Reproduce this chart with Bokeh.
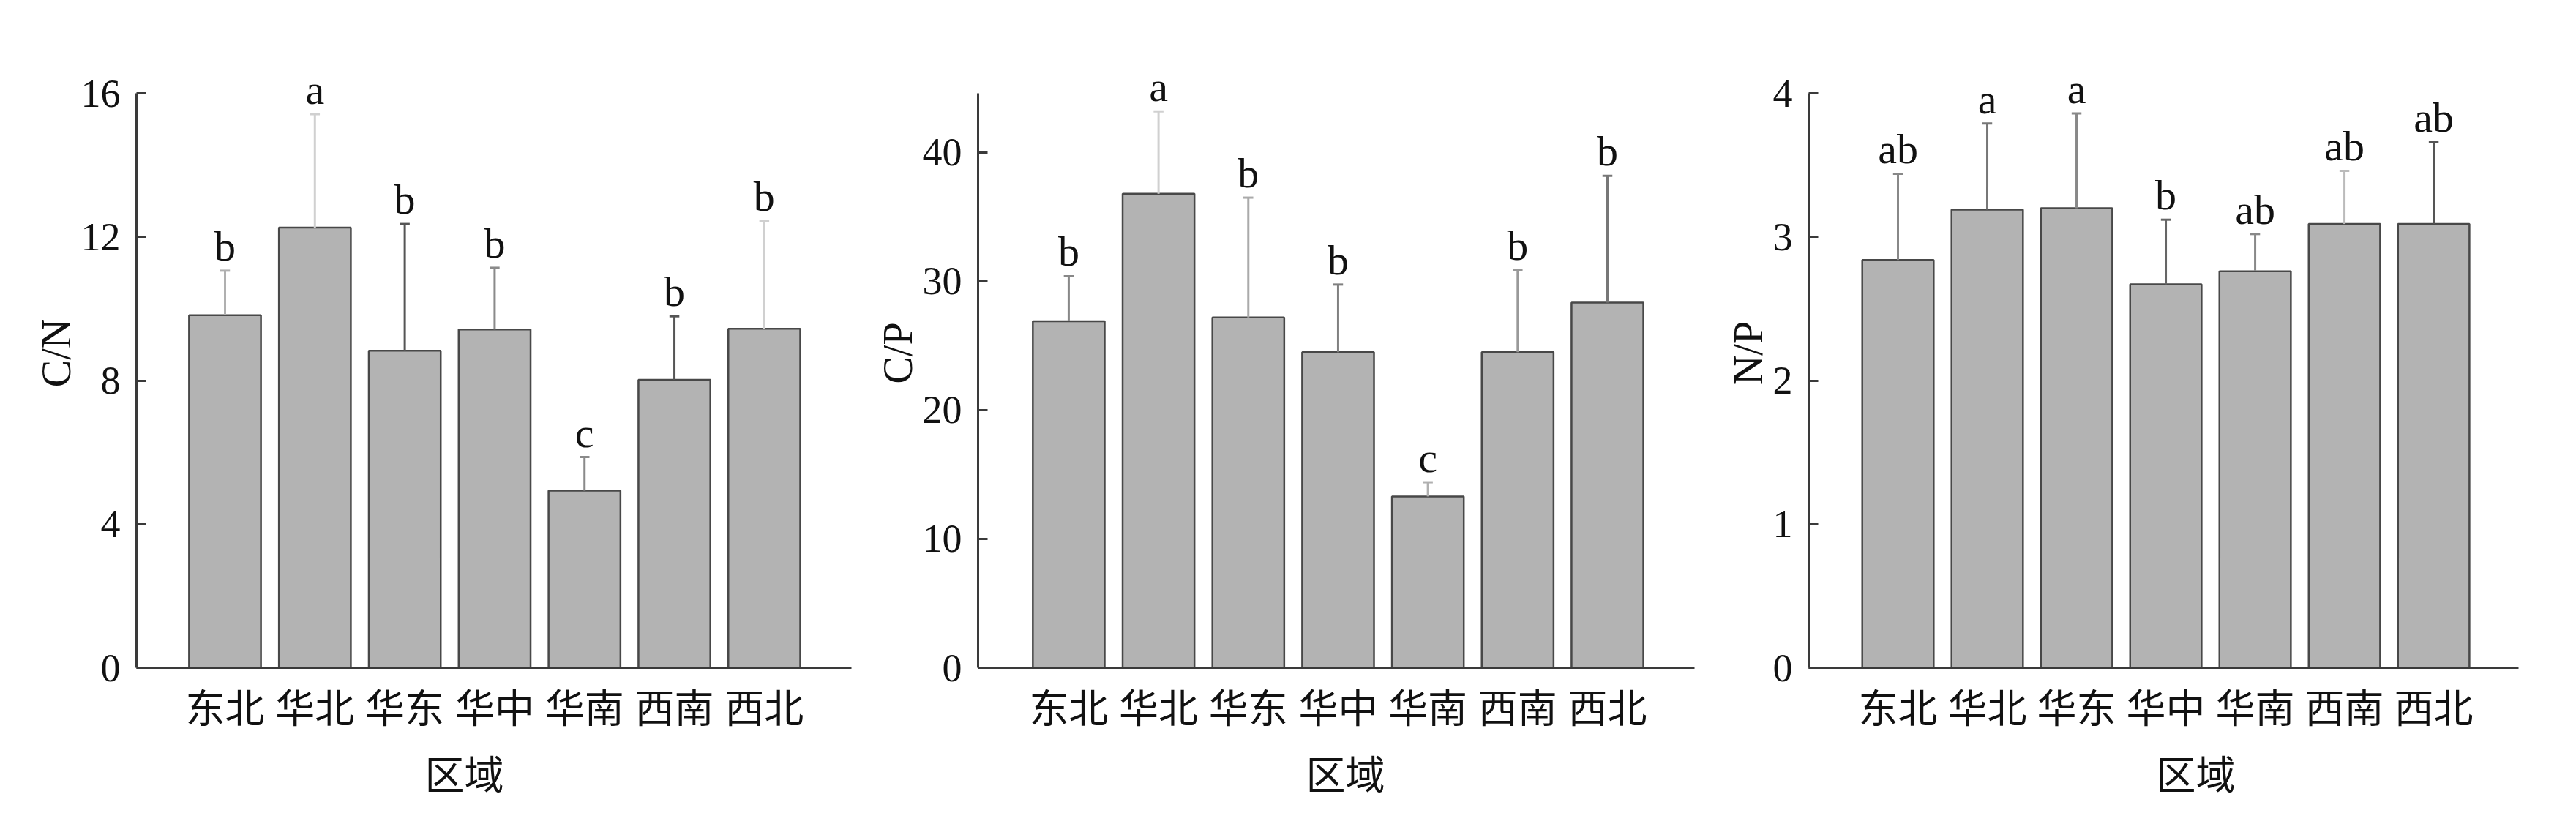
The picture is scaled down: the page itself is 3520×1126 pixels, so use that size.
from bokeh.plotting import figure
from bokeh.layouts import row
from bokeh.models import ColumnDataSource, Range1d, FixedTicker, Title
from bokeh.core.properties import value
from bokeh.embed import file_html
from bokeh.resources import INLINE

regions = ["东北", "华北", "华东", "华中", "华南", "西南", "西北"]

# C/N
cn_mean = [9.82, 12.26, 8.83, 9.42, 4.93, 8.02, 9.44]
cn_sd = [1.24, 3.16, 3.53, 1.72, 0.94, 1.77, 3.00]
cn_sig = ["b", "a", "b", "b", "c", "b", "b"]

# C/P
cp_mean = [26.9, 36.8, 27.2, 24.5, 13.3, 24.5, 28.35]
cp_sd = [3.5, 6.4, 9.3, 5.25, 1.1, 6.4, 9.85]
cp_sig = ["b", "a", "b", "b", "c", "b", "b"]

# N/P
np_mean = [2.84, 3.19, 3.20, 2.67, 2.76, 3.09, 3.09]
np_sd = [0.60, 0.60, 0.66, 0.45, 0.26, 0.37, 0.57]
np_sig = ["ab", "a", "a", "b", "ab", "ab", "ab"]

SERIF = "Liberation Serif"
CJK = "Noto Sans CJK SC"
AXIS = "#3a3a3a"

# axis spans 785 px; the frame gets 75 px more above it so the letters fit
AXIS_H = 785
EXTRA = 75


def panel(width, b_left, b_right, x_range, y_top, ticks, ylabel,
          means, sds, sigs, err_colors, title_off):
    y_end = y_top * (AXIS_H + EXTRA) / AXIS_H
    p = figure(width=width, height=1110, output_backend="svg",
               toolbar_location=None, tools="",
               x_range=Range1d(*x_range), y_range=Range1d(0, y_end),
               min_border_left=b_left, min_border_right=b_right,
               min_border_top=127 - EXTRA, min_border_bottom=198)
    p.outline_line_color = None
    p.grid.visible = False

    xs = list(range(len(regions)))
    tops = [m + s for m, s in zip(means, sds)]
    src = ColumnDataSource(dict(x=xs, mean=means, top=tops, sig=sigs,
                                c=err_colors,
                                xl=[x - 0.055 for x in xs],
                                xr=[x + 0.055 for x in xs]))

    p.vbar(x="x", top="mean", width=0.8, source=src, fill_color="#b3b3b3",
           line_color="#484848", line_width=2.5)
    p.segment(x0="x", y0="mean", x1="x", y1="top", source=src,
              line_color="c", line_width=3)
    p.segment(x0="xl", y0="top", x1="xr", y1="top", source=src,
              line_color="c", line_width=3)
    p.text(x="x", y="top", text="sig", source=src, text_align="center",
           text_baseline="bottom", y_offset=-1,
           text_font=value(SERIF), text_font_size="58px", text_color="#111111")

    # x axis: region names, no ticks
    xa = p.xaxis[0]
    xa.ticker = FixedTicker(ticks=xs)
    xa.major_label_overrides = {i: r for i, r in enumerate(regions)}
    xa.major_tick_in = 0
    xa.major_tick_out = 0
    xa.minor_tick_line_color = None
    xa.major_label_standoff = 12
    xa.major_label_text_font = CJK
    xa.major_label_text_font_size = "54px"
    xa.major_label_text_color = "#111111"
    xa.axis_line_color = AXIS
    xa.axis_line_width = 3

    ya = p.yaxis[0]
    ya.bounds = (0, y_top)
    ya.ticker = FixedTicker(ticks=ticks)
    ya.major_tick_in = 13
    ya.major_tick_out = 0
    ya.minor_tick_line_color = None
    ya.major_tick_line_color = AXIS
    ya.major_tick_line_width = 3
    ya.axis_line_color = AXIS
    ya.axis_line_width = 3
    ya.major_label_standoff = 22
    ya.major_label_text_font = SERIF
    ya.major_label_text_font_size = "54px"
    ya.major_label_text_color = "#111111"
    ya.axis_label = ylabel
    ya.axis_label_text_font = SERIF
    ya.axis_label_text_font_style = "normal"
    ya.axis_label_text_font_size = "56px"
    ya.axis_label_text_color = "#111111"
    ya.axis_label_standoff = 0

    # x title "区域"
    p.add_layout(Title(text="区域", align="left", offset=title_off,
                       standoff=14, text_font=CJK, text_font_size="54px",
                       text_font_style="normal", text_color="#111111"),
                 "below")
    return p


p1 = panel(1167, 186, 4, (-0.985, 6.97), 16, [0, 4, 8, 12, 16], "C/N",
           cn_mean, cn_sd, cn_sig,
           ["#b0b0b0", "#d0d0d0", "#555555", "#8a8a8a", "#8a8a8a", "#555555", "#d0d0d0"],
           394)
p2 = panel(1155, 169, 7, (-1.01, 6.97), 44.6, [0, 10, 20, 30, 40], "C/P",
           cp_mean, cp_sd, cp_sig,
           ["#888888", "#d0d0d0", "#aaaaaa", "#808080", "#b0b0b0", "#999999", "#777777"],
           448)
p3 = panel(1182, 149, 63, (-1.0, 6.95), 4, [0, 1, 2, 3, 4], "N/P",
           np_mean, np_sd, np_sig,
           ["#888888", "#777777", "#888888", "#666666", "#888888", "#bbbbbb", "#555555"],
           475)

layout = row(p1, p2, p3)
open("out.html", "w").write(file_html(layout, INLINE))
